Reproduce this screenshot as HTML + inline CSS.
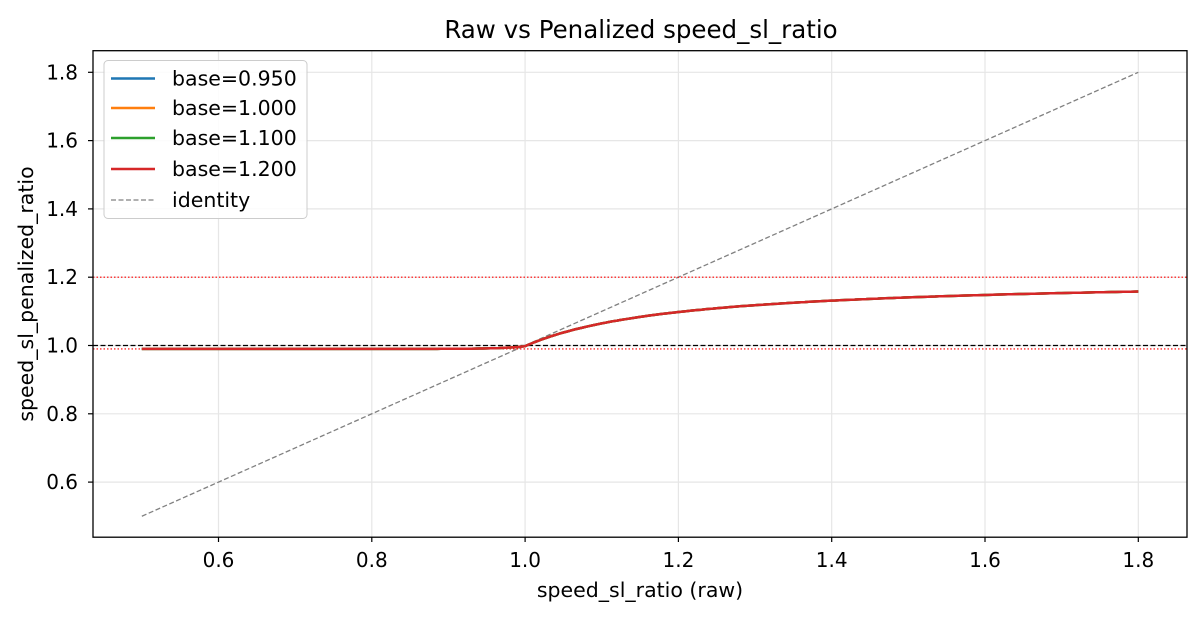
<!DOCTYPE html>
<html><head><meta charset="utf-8"><style>
body{margin:0;background:#fff;}
svg text{font-family:"DejaVu Sans","Liberation Sans",sans-serif;fill:#000;}
</style></head><body>
<svg id="s" width="1202" height="616" viewBox="0 0 1202 616" xmlns="http://www.w3.org/2000/svg">
<rect width="1202" height="616" fill="#fff"/>
<g id="grid" stroke="#e6e6e6" stroke-width="1.2"></g>
<g id="series"></g>
<rect x="93" y="50.7" width="1094" height="486.5" fill="none" stroke="#000" stroke-width="1.3"/>
<g id="ticks" stroke="#000" stroke-width="1.2"></g>
<g id="labels" font-size="20"></g>
<text x="641" y="38" font-size="24.5" text-anchor="middle">Raw vs Penalized speed_sl_ratio</text>
<text x="640" y="597" font-size="20.5" text-anchor="middle">speed_sl_ratio (raw)</text>
<text transform="translate(33,294) rotate(-90)" font-size="20.5" text-anchor="middle">speed_sl_penalized_ratio</text>
<g>
<rect x="104" y="60.5" width="203" height="158" rx="4" fill="#fff" fill-opacity="0.85" stroke="#ccc"/>
<line x1="111" y1="78.5" x2="155" y2="78.5" stroke="#1f77b4" stroke-width="2.5"/>
<line x1="111" y1="108" x2="155" y2="108" stroke="#ff7f0e" stroke-width="2.5"/>
<line x1="111" y1="138" x2="155" y2="138" stroke="#2ca02c" stroke-width="2.5"/>
<line x1="111" y1="169" x2="155" y2="169" stroke="#d62728" stroke-width="2.5"/>
<line x1="111" y1="200" x2="155" y2="200" stroke="#808080" stroke-width="1.3" stroke-dasharray="5,2.5"/>
<text x="172" y="85.5" font-size="20.5">base=0.950</text>
<text x="172" y="115" font-size="20.5">base=1.000</text>
<text x="172" y="145" font-size="20.5">base=1.100</text>
<text x="172" y="176" font-size="20.5">base=1.200</text>
<text x="172" y="207" font-size="20.5">identity</text>
</g>
</svg>
<script>
const X=v=>1138.3+(v-1.8)*766.5, Y=v=>72.3-(v-1.8)*341.5, NS="http://www.w3.org/2000/svg";
function el(p,t,a,txt){const e=document.createElementNS(NS,t);for(const k in a)e.setAttribute(k,a[k]);if(txt)e.textContent=txt;document.getElementById(p).appendChild(e);}
const xt=[0.6,0.8,1.0,1.2,1.4,1.6,1.8], yt=[0.6,0.8,1.0,1.2,1.4,1.6,1.8];
xt.forEach(v=>{el("grid","line",{x1:X(v),x2:X(v),y1:50.7,y2:537.2});el("ticks","line",{x1:X(v),x2:X(v),y1:537.2,y2:542});el("labels","text",{x:X(v),y:567,"text-anchor":"middle"},v.toFixed(1));});
yt.forEach(v=>{el("grid","line",{y1:Y(v),y2:Y(v),x1:93,x2:1187});el("ticks","line",{y1:Y(v),y2:Y(v),x1:88,x2:93});el("labels","text",{x:78,y:Y(v)+7,"text-anchor":"end"},v.toFixed(1));});
el("series","line",{x1:X(0.5),y1:Y(0.5),x2:X(1.8),y2:Y(1.8),stroke:"#808080","stroke-width":1.3,"stroke-dasharray":"5,2.5"});
el("series","line",{x1:93,x2:1187,y1:Y(1.2),y2:Y(1.2),stroke:"#ff0000","stroke-width":1.2,"stroke-dasharray":"1.5,2"});
el("series","line",{x1:93,x2:1187,y1:Y(0.99),y2:Y(0.99),stroke:"#ff0000","stroke-width":1.2,"stroke-dasharray":"1.5,2"});
el("series","line",{x1:93,x2:1187,y1:Y(1.0),y2:Y(1.0),stroke:"#000","stroke-width":1.2,"stroke-dasharray":"5,2.5"});
const f=x=>{const d=x-1;return d<0?0.99+0.008*Math.exp(d/0.03):0.998+0.2*d/(0.2+d);};
let pts=[];for(let x=0.5;x<=1.8001;x+=0.005)pts.push(X(x).toFixed(1)+","+Y(f(x)).toFixed(1));
const d="M"+pts.join(" L");
["#1f77b4","#ff7f0e","#2ca02c","#d62728"].forEach(c=>el("series","path",{d:d,fill:"none",stroke:c,"stroke-width":2.5}));
</script>
</body></html>
